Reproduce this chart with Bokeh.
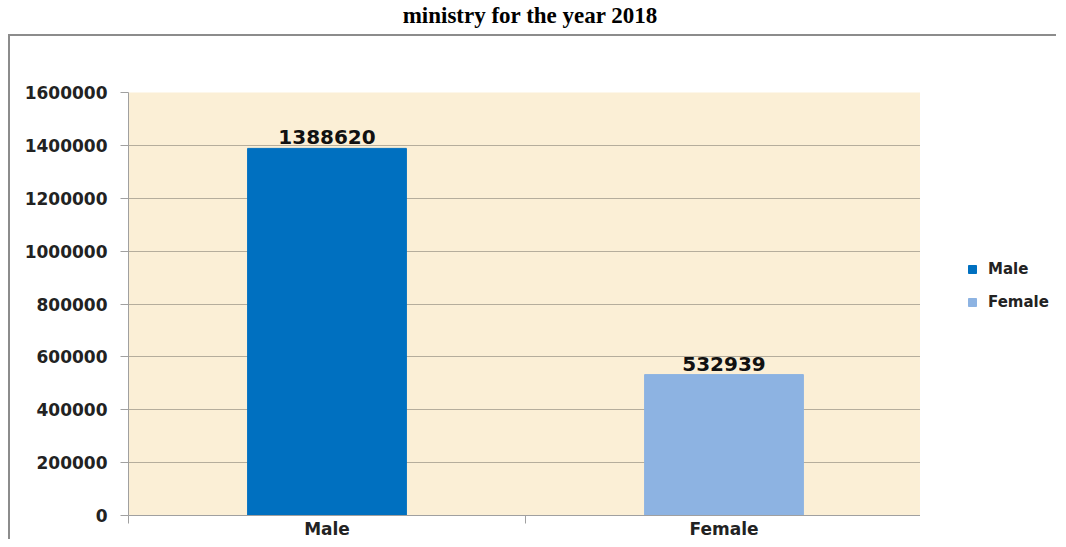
from bokeh.plotting import figure
from bokeh.layouts import column, row
from bokeh.models import (ColumnDataSource, Legend, LegendItem, NumeralTickFormatter,
                          FixedTicker, Range1d, FactorRange, Div, LinearAxis,
                          CategoricalAxis)
from bokeh.core.properties import value
from bokeh.embed import file_html
from bokeh.resources import INLINE

# ---- data ----
categories = ["Male", "Female"]
values = [1388620, 532939]
bar_colors = ["#0070C0", "#8DB3E2"]
y_ticks = [0, 200000, 400000, 600000, 800000, 1000000, 1200000, 1400000, 1600000]
title_text = "ministry for the year 2018"

src = ColumnDataSource(dict(cat=categories, val=values, color=bar_colors,
                            label=[str(v) for v in values]))

FONT = "DejaVu Sans"
TITLE_H = 24
FIG_H = 505
BORDER = "2px solid #8c8c8c"
AX_COL = "#a0a0a0"

title_div = Div(text=title_text, width=1050, height=TITLE_H,
                styles={"text-align": "center", "font-family": "Liberation Serif",
                        "font-weight": "bold", "font-size": "23px",
                        "line-height": "22px", "color": "#000000", "width": "1050px"})

p = figure(x_range=FactorRange(*categories), y_range=Range1d(0, 1600000),
           width=912, height=FIG_H, output_backend="svg", toolbar_location=None,
           x_axis_location=None,
           min_border_left=118, min_border_right=0, min_border_top=56,
           min_border_bottom=0, background_fill_color="#FBEFD6",
           border_fill_color="white", outline_line_color=None,
           styles={"border-left": BORDER, "border-top": BORDER, "margin-left": "8px"})

r = p.vbar(x="cat", top="val", width=0.4, color="color", source=src)

p.text(x="cat", y="val", text="label", source=src, text_align="center",
       text_baseline="bottom", y_offset=-4, text_font=value(FONT),
       text_font_style="bold", text_font_size="20px", text_color="#111111")

# grid
p.xgrid.grid_line_color = None
p.ygrid.ticker = FixedTicker(ticks=y_ticks)
p.ygrid.grid_line_color = "#b5ad9c"
p.ygrid.grid_line_width = 1.2

# y axis
p.yaxis.ticker = FixedTicker(ticks=y_ticks)
p.yaxis.formatter = NumeralTickFormatter(format="0")
p.yaxis.major_tick_out = 8
p.yaxis.major_tick_in = 0
p.yaxis.minor_tick_line_color = None
p.yaxis.axis_line_color = AX_COL
p.yaxis.major_tick_line_color = AX_COL
p.yaxis.major_label_standoff = 13
p.yaxis.major_label_text_font = FONT
p.yaxis.major_label_text_font_style = "bold"
p.yaxis.major_label_text_font_size = "17px"
p.yaxis.major_label_text_color = "#222222"

# x axis: boundary tick marks between categories (Excel style), placed on the
# synthetic coordinates of the factor range (category i spans i..i+1) ...
n = len(categories)
sep_ticks = list(range(n + 1))
sep_axis = LinearAxis(ticker=FixedTicker(ticks=sep_ticks),
                      major_label_overrides={t: "" for t in sep_ticks},
                      major_label_text_font_size="1px", major_label_standoff=0,
                      major_tick_out=8, major_tick_in=0,
                      minor_tick_line_color=None, axis_line_color=AX_COL,
                      major_tick_line_color=AX_COL)
p.add_layout(sep_axis, "below")

# ... and the category names
cat_axis = CategoricalAxis(major_tick_line_color=None, major_tick_out=0, major_tick_in=0,
                           axis_line_color=None, major_label_standoff=-5,
                           major_label_text_font=FONT, major_label_text_font_style="bold",
                           major_label_text_font_size="17px",
                           major_label_text_color="#222222")
p.add_layout(cat_axis, "below")

# legend panel (a narrow companion figure to the right)
p2 = figure(x_range=FactorRange(*categories), y_range=Range1d(0, 1),
            width=136, height=FIG_H, output_backend="svg", toolbar_location=None,
            x_axis_location=None, y_axis_location=None,
            min_border_left=0, min_border_right=0, min_border_top=0, min_border_bottom=0,
            background_fill_color="white", border_fill_color="white",
            outline_line_color=None, styles={"border-top": BORDER})
p2.grid.visible = False
r2 = p2.vbar(x="cat", top="val", width=0.4, color="color", source=src, visible=False)

legend = Legend(items=[LegendItem(label=c, renderers=[r2], index=i)
                       for i, c in enumerate(categories)],
                location=(47, 204), glyph_width=10, glyph_height=10,
                label_standoff=11, spacing=15, padding=0, margin=0,
                border_line_color=None, background_fill_alpha=0,
                label_text_font=FONT, label_text_font_style="bold",
                label_text_font_size="15px", label_text_color="#222222")
p2.add_layout(legend)

layout = column(title_div, row(p, p2, spacing=0), spacing=0)

open("out.html", "w").write(file_html(layout, INLINE))
